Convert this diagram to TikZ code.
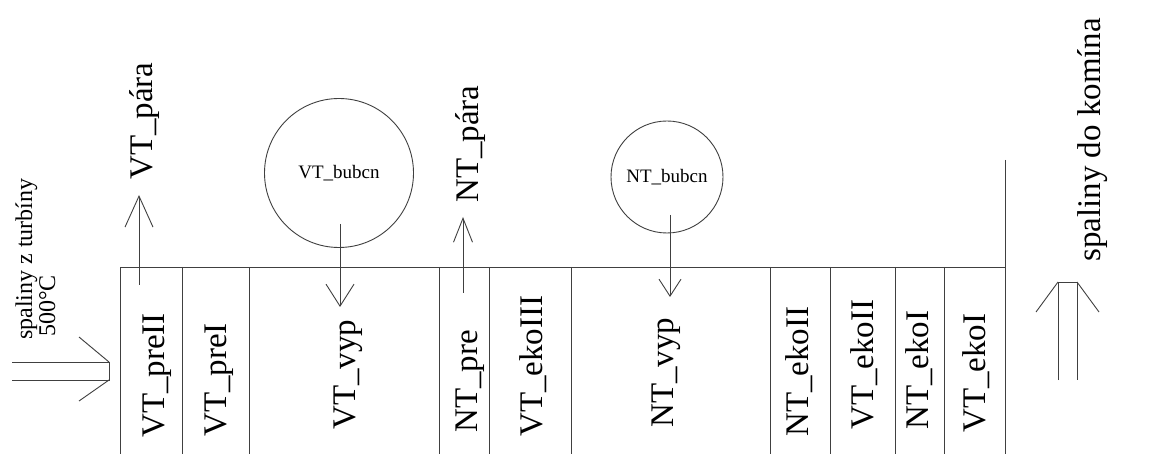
\documentclass[tikz,border=0pt]{standalone}
\usepackage{fontspec}
\setmainfont{Liberation Serif}
\usetikzlibrary{arrows.meta}
\tikzset{
  ln/.style={draw=black!75, line width=0.9pt},
  big/.style={font=\fontsize{33}{36}\selectfont, inner sep=0pt, rotate=90, anchor=base west},
  mid/.style={font=\fontsize{24}{26}\selectfont, inner sep=0pt, rotate=90, anchor=base west},
  drum/.style={ln, circle, inner sep=0pt, font=\fontsize{19}{21}\selectfont},
  flowA/.style={ln, -{Straight Barb[length=31pt, width=28pt, line width=0.9pt]}},
  flowB/.style={ln, -{Straight Barb[length=22pt, width=28pt, line width=0.9pt]}},
  flowC/.style={ln, -{Straight Barb[length=24pt, width=19pt, line width=0.9pt]}},
  flowD/.style={ln, -{Straight Barb[length=17pt, width=22pt, line width=0.9pt]}}
}
\begin{document}
\begin{tikzpicture}[x=1pt, y=-1pt]
\useasboundingbox (0,0) rectangle (1159,454);
\fill[white] (0,0) rectangle (1159,454);

% duct outline
\draw[ln] (120,454) -- (120,267) -- (1005,267);
\draw[ln] (1005,160) -- (1005,454);
\foreach \x in {182,249,439,489,571,770,830,895,944}
  \draw[ln] (\x,267) -- (\x,454);

% column labels
\node[big] (c1) at (164,438) {VT\_preII};
\node[big] (c2) at (226,437) {VT\_preI};
\node[big] (c3) at (355,430) {VT\_vyp};
\node[big] (c4) at (477,433) {NT\_pre};
\node[big] (c5) at (542,437) {VT\_ekoIII};
\node[big] (c6) at (673,428) {NT\_vyp};
\node[big] (c7) at (808,437) {NT\_ekoII};
\node[big] (c8) at (873,430) {VT\_ekoII};
\node[big] (c9) at (928,430) {NT\_ekoI};
\node[big] (c10) at (985,433) {VT\_ekoI};

% outputs
\node[big] (vtp) at (152,180) {VT\_pára};
\node[big] (ntp) at (478,203) {NT\_pára};
\node[big] (out) at (1100,262) {spaliny do komína};
\node[mid] (in1) at (32,340) {spaliny z turbíny};
\node[mid] (in2) at (55,337) {500°C};

% drums
\node[drum, minimum size=149pt] (vtb) at (339,173) {VT\_bubcn};
\node[drum, minimum size=112pt] (ntb) at (667,177) {NT\_bubcn};

% connector end points
\coordinate (a1s) at (139,285); \coordinate (a1e) at (139,195);
\coordinate (a2s) at (340,224); \coordinate (a2e) at (340,307);
\coordinate (a3s) at (463,293); \coordinate (a3e) at (463,217);
\coordinate (a4s) at (670,215); \coordinate (a4e) at (670,297);
\draw[flowA] (a1s) -- (a1e);
\draw[flowB] (a2s) -- (a2e);
\draw[flowC] (a3s) -- (a3e);
\draw[flowD] (a4s) -- (a4e);

% inlet double arrow
\draw[ln] (12,362) -- (109,362) -- (109,380) -- (12,380);
\draw[ln] (79,337) -- (109,362);
\draw[ln] (79,401) -- (109,380);

% outlet double arrow
\draw[ln] (1058,380) -- (1058,282) -- (1077,282) -- (1077,380);
\draw[ln] (1036,312) -- (1058,282);
\draw[ln] (1099,312) -- (1077,282);
\end{tikzpicture}
\end{document}
